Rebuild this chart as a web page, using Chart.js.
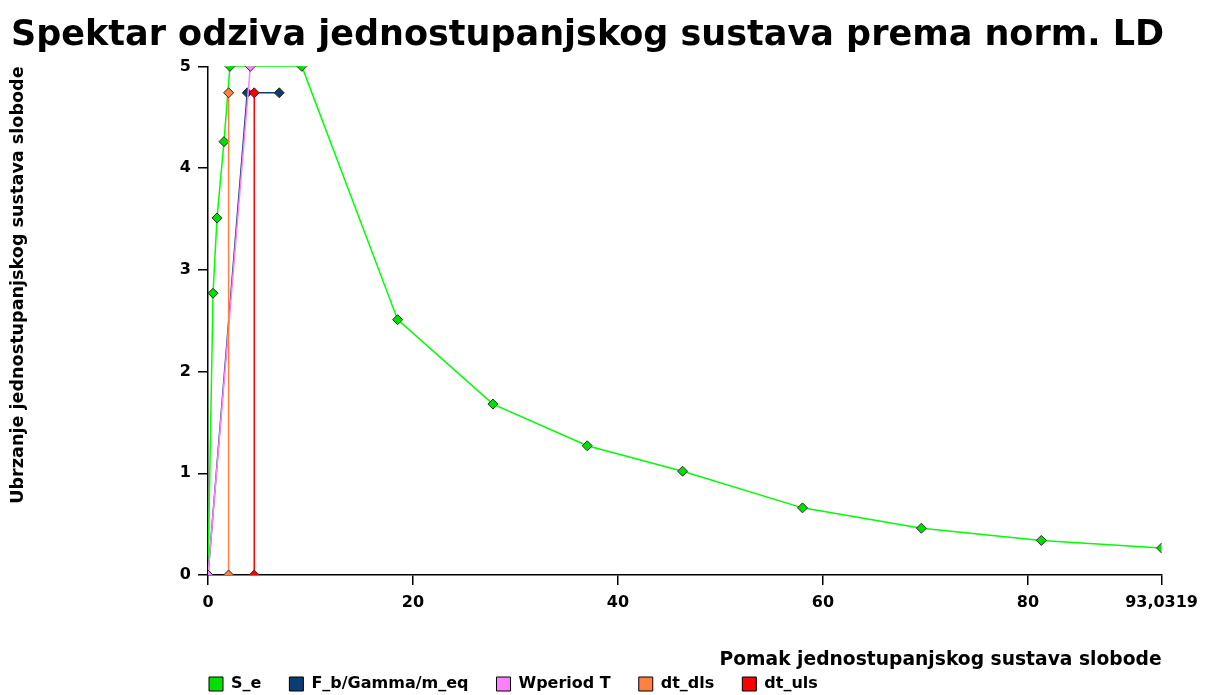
<!DOCTYPE html>
<html>
<head>
<meta charset="utf-8">
<script src="https://cdn.jsdelivr.net/npm/chart.js@4/dist/chart.umd.min.js"></script>
<style>
  html, body { margin: 0; padding: 0; background: #fff; }
  #wrap { width: 1206px; height: 695px; }
</style>
</head>
<body>
<div id="wrap"><canvas id="spektar"></canvas></div>
<script>
// ---- podaci (pomak Sd, ubrzanje Sa) ----
var seDisp = [0, 0.49, 0.88, 1.56, 2.14, 9.16, 18.5, 27.8, 37.0, 46.3, 58.0, 69.6, 81.3, 93.0319];
var seAcc  = [0, 2.77, 3.51, 4.26, 5.0, 5.0, 2.51, 1.68, 1.27, 1.02, 0.66, 0.46, 0.34, 0.265];

var fbDisp = [0, 3.83, 6.95];
var fbAcc  = [0, 4.74, 4.74];

var wpDisp = [0, 4.13];
var wpAcc  = [0, 5.0];

var dlsDisp = [2.01, 2.01];
var dlsAcc  = [0, 4.74];

var ulsDisp = [4.51, 4.51];
var ulsAcc  = [0, 4.74];

var xTicks = [0, 20, 40, 60, 80, 93.0319];
var yTicks = [0, 1, 2, 3, 4, 5];

var seriesNames = ['S_e', 'F_b/Gamma/m_eq', 'Wperiod T', 'dt_dls', 'dt_uls'];
var lineColors  = ['#00ff00', '#0b3d75', '#ff80ff', '#ff8040', '#ff0000'];
var fillColors  = ['#00e000', '#0b3d75', '#ff80ff', '#ff8040', '#ff0000'];

var FONT = '"DejaVu Sans", Verdana, sans-serif';
var LEGEND_PAD = 28;

function pts(xs, ys) {
    return xs.map(function(x, i) { return { x: x, y: ys[i] }; });
}

var seriesData = [
    pts(seDisp, seAcc),
    pts(fbDisp, fbAcc),
    pts(wpDisp, wpAcc),
    pts(dlsDisp, dlsAcc),
    pts(ulsDisp, ulsAcc)
];

// later series are painted over earlier ones
var datasets = seriesData.map(function(d, i) {
    return {
        label: seriesNames[i],
        data: d,
        showLine: true,
        order: seriesData.length - i,
        borderColor: lineColors[i],
        backgroundColor: fillColors[i],
        borderWidth: 1.5,
        pointStyle: 'rectRot',
        pointRadius: 5,
        pointBorderColor: '#2a2a2a',
        pointBorderWidth: 1,
        pointBackgroundColor: fillColors[i]
    };
});

// legend row sits under the plot, left-aligned with the y axis
var legendShift = {
    id: 'legendShift',
    afterLayout: function(chart) {
        var lg = chart.legend;
        if (!lg) return;
        lg.left = chart.chartArea.left + 1 - LEGEND_PAD;
        lg.top = chart.height - 11 - LEGEND_PAD - 8;
    }
};

new Chart(document.getElementById('spektar').getContext('2d'), {
    type: 'scatter',
    data: { datasets: datasets },
    plugins: [legendShift],
    options: {
        responsive: true,
        maintainAspectRatio: false,
        animation: false,
        layout: { padding: { left: 11, right: 42, top: 0, bottom: 0 } },
        plugins: {
            title: {
                display: true,
                text: 'Spektar odziva jednostupanjskog sustava prema norm. LD',
                align: 'start',
                color: '#000',
                font: { family: FONT, size: 35.3, weight: 'bold' },
                padding: { top: 15, bottom: 9 }
            },
            legend: {
                position: 'bottom',
                align: 'start',
                maxHeight: 22,
                labels: {
                    color: '#000',
                    font: { family: FONT, size: 16, weight: 'bold' },
                    boxWidth: 14,
                    boxHeight: 14,
                    padding: LEGEND_PAD,
                    sort: function(a, b) { return a.datasetIndex - b.datasetIndex; },
                    generateLabels: function(chart) {
                        return chart.data.datasets.map(function(ds, i) {
                            return {
                                text: ds.label,
                                fillStyle: fillColors[i],
                                strokeStyle: '#000',
                                lineWidth: 1,
                                datasetIndex: i,
                                hidden: false
                            };
                        });
                    }
                }
            },
            tooltip: { enabled: false }
        },
        scales: {
            x: {
                type: 'linear',
                min: 0,
                max: 93.0319,
                afterBuildTicks: function(scale) {
                    scale.ticks = xTicks.map(function(v) { return { value: v }; });
                },
                afterFit: function(scale) { scale.height = 98; },
                ticks: {
                    color: '#000',
                    padding: 8,
                    maxRotation: 0,
                    font: { family: FONT, size: 16, weight: 'bold' },
                    callback: function(v) { return String(v).replace('.', ','); }
                },
                grid: { drawOnChartArea: false, tickLength: 10, color: '#000', lineWidth: 1.5 },
                border: { color: '#000', width: 1.5 },
                title: {
                    display: true,
                    text: 'Pomak jednostupanjskog sustava slobode',
                    align: 'end',
                    color: '#000',
                    font: { family: FONT, size: 18.7, weight: 'bold' },
                    padding: { top: 0, bottom: 2 }
                }
            },
            y: {
                type: 'linear',
                min: 0,
                max: 5,
                afterBuildTicks: function(scale) {
                    scale.ticks = yTicks.map(function(v) { return { value: v }; });
                },
                afterFit: function(scale) { scale.width = 197; },
                ticks: {
                    color: '#000',
                    padding: 7,
                    font: { family: FONT, size: 16, weight: 'bold' }
                },
                grid: { drawOnChartArea: false, tickLength: 10, color: '#000', lineWidth: 1.5 },
                border: { color: '#000', width: 1.5 },
                title: {
                    display: true,
                    text: 'Ubrzanje jednostupanjskog sustava slobode',
                    align: 'end',
                    color: '#000',
                    font: { family: FONT, size: 17.6, weight: 'bold' },
                    padding: { top: -3, bottom: 0 }
                }
            }
        }
    }
});
</script>
</body>
</html>
